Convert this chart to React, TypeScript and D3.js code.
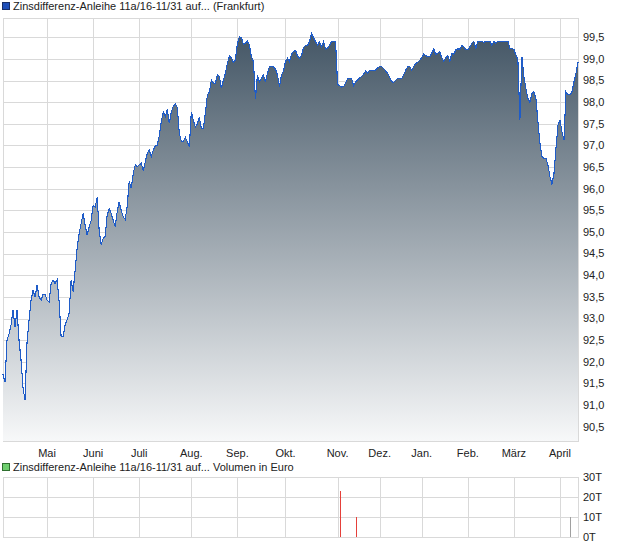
import React, { useRef, useEffect } from "react";
import * as d3 from "d3";

const width = 620;
const height = 546;

const priceTitle = "Zinsdifferenz-Anleihe 11a/16-11/31 auf... (Frankfurt)";
const volumeTitle = "Zinsdifferenz-Anleihe 11a/16-11/31 auf... Volumen in Euro";

// closing prices, one per trading day
const prices = [
  91.71, 91.53, 92.5, 92.64, 92.85, 93.19, 92.8, 93.19, 92.5, 92.04,
  91.4, 91.11, 92.46, 92.96, 93.42, 93.66, 93.5, 93.77, 93.5, 93.42,
  93.56, 93.56, 93.42, 93.39, 93.81, 93.89, 93.81, 93.9, 93.4, 92.58,
  92.58, 92.85, 92.97, 93.12, 93.89, 93.62, 94.12, 94.62, 94.97, 95.2,
  95.43, 95.16, 94.93, 95.12, 95.27, 95.62, 95.58, 95.8, 95.04, 94.7,
  94.85, 94.9, 95.39, 95.54, 95.43, 95.27, 95.12, 95.47, 95.7, 95.5,
  95.35, 95.29, 95.6, 96.18, 96.01, 96.35, 96.55, 96.51, 96.55, 96.59,
  96.41, 96.62, 96.82, 96.89, 96.74, 96.89, 96.99, 97.01, 97.22, 97.55,
  97.78, 97.66, 97.83, 97.51, 97.78, 97.9, 97.97, 97.88, 97.28, 97.1,
  97.1, 97.19, 97.09, 96.97, 97.78, 97.58, 97.43, 97.5, 97.65, 97.4,
  97.4, 97.74, 98.17, 98.24, 98.51, 98.44, 98.44, 98.63, 98.6, 98.32,
  98.51, 98.67, 98.9, 99.07, 99.03, 98.92, 98.98, 99.36, 99.51, 99.5,
  99.34, 99.36, 99.41, 99.32, 99.05, 98.94, 98.07, 98.63, 98.47, 98.55,
  98.63, 98.46, 98.67, 98.83, 98.83, 98.82, 98.77, 98.63, 98.36, 98.63,
  98.72, 98.94, 99.02, 98.94, 99.11, 99.17, 99.2, 99.07, 99.01, 99.08,
  99.26, 99.31, 99.31, 99.4, 99.59, 99.49, 99.4, 99.32, 99.4, 99.28,
  99.4, 99.23, 99.25, 99.32, 99.4, 99.41, 99.4, 98.41, 98.38, 98.35,
  98.36, 98.44, 98.54, 98.55, 98.55, 98.38, 98.47, 98.51, 98.57, 98.59,
  98.65, 98.72, 98.67, 98.74, 98.74, 98.74, 98.74, 98.8, 98.82, 98.82,
  98.78, 98.72, 98.67, 98.57, 98.47, 98.46, 98.51, 98.55, 98.55, 98.55,
  98.63, 98.74, 98.82, 98.82, 98.74, 98.82, 98.9, 98.92, 98.97, 99.03,
  99.11, 99.08, 99.05, 99.05, 99.13, 99.23, 99.1, 99.13, 99.17, 99.03,
  98.94, 99.03, 99.08, 98.94, 99.13, 99.11, 99.21, 99.23, 99.23, 99.31,
  99.28, 99.21, 99.21, 99.28, 99.36, 99.41, 99.25, 99.41, 99.41, 99.41,
  99.38, 99.41, 99.41, 99.41, 99.32, 99.41, 99.36, 99.41, 99.41, 99.41,
  99.41, 99.41, 99.41, 99.25, 99.24, 99.22, 99.1, 98.97, 97.59, 99.05,
  98.59, 98.32, 98.09, 98.0, 98.2, 98.24, 98.09, 97.55, 97.05, 96.74,
  96.7, 96.7, 96.55, 96.28, 96.1, 96.35, 96.93, 97.47, 97.59, 97.32,
  97.12, 98.24, 98.17, 98.17, 98.24, 98.47, 98.67, 98.92,
];

// first trading day of each month (index into prices)
const monthLabels = ["Mai", "Juni", "Juli", "Aug.", "Sep.", "Okt.", "Nov.", "Dez.", "Jan.", "Feb.", "März", "April"];
const monthStarts = [22, 45, 68, 94, 117, 141, 167, 188, 209, 232, 255, 278];

const priceTicks = [90.5, 91, 91.5, 92, 92.5, 93, 93.5, 94, 94.5, 95, 95.5, 96, 96.5, 97, 97.5, 98, 98.5, 99, 99.5];

// volume (Euro) on the few days with turnover
const volumeDays = [168, 176, 283];
const volumeValues = [23000, 10000, 10000];
const volumeMoves = ["down", "down", "flat"];
const volumeTicks = [0, 10000, 20000, 30000];
const volumeTickLabels = ["0T", "10T", "20T", "30T"];

const font = "'Liberation Sans', Arial, sans-serif";
const gridColor = "#d9d9d9";
const moveColors: Record<string, string> = { down: "#e5403a", up: "#3aa83a", flat: "#a0a0a0" };

const de = d3.formatLocale({ decimal: ",", thousands: ".", grouping: [3], currency: ["", " €"] });
const fmt = de.format(".1f");

const App = () => {
  const ref = useRef<SVGSVGElement>(null);

  useEffect(() => {
    if (!ref.current) return;
    const svg = d3.select(ref.current);
    svg.selectAll("*").remove();

    const left = 3;
    const right = 578;
    const top = 18;
    const bottom = 441;
    const vTop = 477;
    const vBottom = 537;
    const crisp = (v: number) => Math.round(v) + 0.5;

    const x = d3.scaleLinear().domain([0, prices.length - 1]).range([left, right]);
    const y = d3.scaleLinear().domain([90.17, 99.946]).range([bottom, top]);
    const yv = d3.scaleLinear().domain([0, 30000]).range([vBottom, vTop]);

    const defs = svg.append("defs");
    const grad = defs
      .append("linearGradient")
      .attr("id", "fade")
      .attr("gradientUnits", "userSpaceOnUse")
      .attr("x1", 0)
      .attr("x2", 0)
      .attr("y1", top)
      .attr("y2", bottom);
    grad.append("stop").attr("offset", 0).attr("stop-color", "#3d5060");
    grad.append("stop").attr("offset", 1).attr("stop-color", "#f7f8f9");

    // legends
    const legend = (yy: number, fill: string, stroke: string, label: string) => {
      svg
        .append("rect")
        .attr("x", 2.5)
        .attr("y", yy - 3.5)
        .attr("width", 7)
        .attr("height", 7)
        .attr("fill", fill)
        .attr("stroke", stroke);
      svg
        .append("text")
        .attr("x", 13)
        .attr("y", yy + 4)
        .style("font", `11px ${font}`)
        .attr("fill", "#222")
        .text(label);
    };
    legend(6, "#1f4fb8", "#1a2f66", priceTitle);
    legend(467, "#6fcf6f", "#2f6f2f", volumeTitle);

    // price grid
    const grid = svg.append("g").attr("stroke", gridColor).attr("shape-rendering", "crispEdges");
    grid
      .selectAll("line.h")
      .data(priceTicks)
      .join("line")
      .attr("x1", left)
      .attr("x2", right)
      .attr("y1", (d) => crisp(y(d)))
      .attr("y2", (d) => crisp(y(d)));
    grid
      .selectAll("line.v")
      .data(monthStarts)
      .enter()
      .append("line")
      .attr("x1", (d) => crisp(x(d)))
      .attr("x2", (d) => crisp(x(d)))
      .attr("y1", top)
      .attr("y2", bottom);
    grid
      .append("rect")
      .attr("x", left + 0.5)
      .attr("y", top + 0.5)
      .attr("width", right - left)
      .attr("height", bottom - top)
      .attr("fill", "none");

    const area = d3
      .area<number>()
      .x((d, i) => x(i))
      .y0(bottom)
      .y1((d) => y(d));
    const line = d3
      .line<number>()
      .x((d, i) => x(i))
      .y((d) => y(d));

    svg.append("path").datum(prices).attr("d", area).attr("fill", "url(#fade)");
    svg
      .append("path")
      .datum(prices)
      .attr("d", line)
      .attr("fill", "none")
      .attr("stroke", "#1f5cc8")
      .attr("stroke-width", 1.1)
      .attr("shape-rendering", "crispEdges");

    // price axis labels
    svg
      .append("g")
      .style("font", `11px ${font}`)
      .attr("fill", "#222")
      .selectAll("text")
      .data(priceTicks)
      .join("text")
      .attr("x", 583)
      .attr("y", (d) => y(d))
      .attr("dy", "0.35em")
      .text((d) => fmt(d));

    // month labels
    svg
      .append("g")
      .style("font", `11px ${font}`)
      .attr("fill", "#222")
      .attr("text-anchor", "middle")
      .selectAll("text")
      .data(monthStarts)
      .join("text")
      .attr("x", (d) => x(d))
      .attr("y", 457)
      .text((d, i) => monthLabels[i]);

    // volume panel
    const vgrid = svg.append("g").attr("stroke", gridColor).attr("shape-rendering", "crispEdges");
    vgrid
      .selectAll("line.h")
      .data(volumeTicks)
      .join("line")
      .attr("x1", left)
      .attr("x2", right)
      .attr("y1", (d) => crisp(yv(d)))
      .attr("y2", (d) => crisp(yv(d)));
    vgrid
      .selectAll("line.v")
      .data(monthStarts)
      .enter()
      .append("line")
      .attr("x1", (d) => crisp(x(d)))
      .attr("x2", (d) => crisp(x(d)))
      .attr("y1", vTop)
      .attr("y2", vBottom);
    vgrid
      .append("rect")
      .attr("x", left + 0.5)
      .attr("y", vTop + 0.5)
      .attr("width", right - left)
      .attr("height", vBottom - vTop)
      .attr("fill", "none");

    svg
      .append("g")
      .attr("shape-rendering", "crispEdges")
      .selectAll("line")
      .data(volumeDays)
      .join("line")
      .attr("x1", (d) => crisp(x(d)))
      .attr("x2", (d) => crisp(x(d)))
      .attr("y1", vBottom)
      .attr("y2", (d, i) => yv(volumeValues[i]))
      .attr("stroke", (d, i) => moveColors[volumeMoves[i]]);

    svg
      .append("g")
      .style("font", `11px ${font}`)
      .attr("fill", "#222")
      .selectAll("text")
      .data(volumeTicks)
      .join("text")
      .attr("x", 583)
      .attr("y", (d) => yv(d))
      .attr("dy", "0.35em")
      .text((d, i) => volumeTickLabels[i]);
  }, []);

  return (
    <svg
      ref={ref}
      width={width}
      height={height}
      style={{ position: "absolute", left: 0, top: 0, background: "#fff" }}
    />
  );
};

export default App;
